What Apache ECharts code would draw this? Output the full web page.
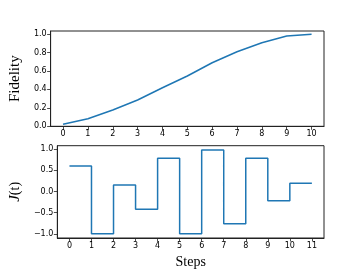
<!DOCTYPE html>
<html>
<head>
<meta charset="utf-8">
<script src="https://cdn.jsdelivr.net/npm/echarts@6/dist/echarts.min.js"></script>
<style>html,body{margin:0;padding:0;background:#fff;}#c{width:360px;height:270px;}</style>
</head>
<body>
<div id="c"></div>
<script>
const fidSteps = [0,1,2,3,4,5,6,7,8,9,10];
const fidelity = [0.022,0.082,0.177,0.285,0.418,0.545,0.689,0.808,0.906,0.978,0.997];
const jSteps = [0,1,2,3,4,5,6,7,8,9,10,11];
const jValues = [0.60,-1.00,0.15,-0.42,0.78,-1.00,0.98,-0.76,0.78,-0.22,0.19,0.19];
const topXTicks = [0,1,2,3,4,5,6,7,8,9,10];
const topYTicks = [0,0.2,0.4,0.6,0.8,1.0];
const botXTicks = [0,1,2,3,4,5,6,7,8,9,10,11];
const botYTicks = [-1.0,-0.5,0,0.5,1.0];

const chart = echarts.init(document.getElementById('c'), null, {renderer:'canvas'});
const lineCol = '#1f77b4';
const frame = '#222';
const tickFont = {color:'#000', fontSize:8, fontFamily:'DejaVu Sans'};
function axisCommon(ticks, fmt){
  return {
    axisLine:{show:true, onZero:false, lineStyle:{color:frame, width:1}},
    axisTick:{show:true, inside:false, length:3.5, lineStyle:{color:frame, width:0.8}, customValues:ticks},
    axisLabel:Object.assign({margin:4, customValues:ticks, formatter:fmt}, tickFont),
    splitLine:{show:false}
  };
}
const fmtInt = v => String(Math.round(v));
const fmt1 = v => (v < 0 ? '\u2212' : '') + Math.abs(v).toFixed(1);

chart.setOption({
  animation:false,
  backgroundColor:'#fff',
  grid:[
    {left:45, top:31, width:279, height:95.3, show:true, borderColor:frame, borderWidth:1, containLabel:false},
    {left:45, top:145.7, width:279, height:94.6, show:true, borderColor:frame, borderWidth:1, containLabel:false}
  ],
  xAxis:[
    Object.assign({type:'value', gridIndex:0, min:-0.5, max:10.5}, axisCommon(topXTicks, fmtInt)),
    Object.assign({type:'value', gridIndex:1, min:-0.55, max:11.55,
      name:'Steps', nameLocation:'middle', nameGap:17,
      nameTextStyle:{fontFamily:'Liberation Serif', fontSize:14, color:'#000'}}, axisCommon(botXTicks, fmtInt))
  ],
  yAxis:[
    Object.assign({type:'value', gridIndex:0, min:0, max:1.033,
      name:'Fidelity', nameLocation:'middle', nameGap:23, nameRotate:90,
      nameTextStyle:{fontFamily:'Liberation Serif', fontSize:15, color:'#000'}}, axisCommon(topYTicks, fmt1)),
    Object.assign({type:'value', gridIndex:1, min:-1.099, max:1.079,
      name:'{i|J}{r|(t)}', nameLocation:'middle', nameGap:27, nameRotate:90,
      nameTextStyle:{fontFamily:'Liberation Serif', fontSize:14, color:'#000',
        rich:{i:{fontFamily:'Liberation Serif', fontStyle:'italic', fontSize:15, color:'#000'},
              r:{fontFamily:'Liberation Serif', fontSize:14, color:'#000'}}}}, axisCommon(botYTicks, fmt1))
  ],
  series:[
    {type:'line', xAxisIndex:0, yAxisIndex:0, data:fidSteps.map((s,i)=>[s,fidelity[i]]),
     showSymbol:false, lineStyle:{color:lineCol, width:1.5}},
    {type:'line', xAxisIndex:1, yAxisIndex:1, step:'end', data:jSteps.map((s,i)=>[s,jValues[i]]),
     showSymbol:false, lineStyle:{color:lineCol, width:1.5}}
  ]
});
</script>
</body>
</html>
